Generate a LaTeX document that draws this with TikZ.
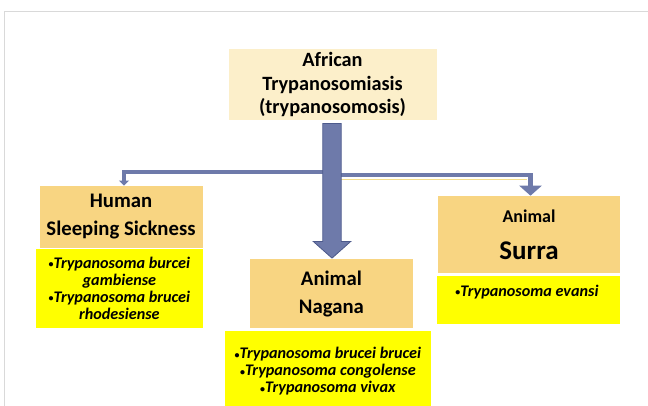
\documentclass[tikz,border=0pt]{standalone}
\usepackage{fontspec}
\setmainfont{Carlito}
\usetikzlibrary{arrows.meta,calc}
\definecolor{cream}{HTML}{FCEFCA}
\definecolor{gold}{HTML}{F8D582}
\definecolor{yel}{HTML}{FFFF00}
\definecolor{slate}{HTML}{6E7AAA}
\definecolor{slatedark}{HTML}{4D5A8C}
\definecolor{framegray}{HTML}{D9D9D9}
\definecolor{paleline}{HTML}{F2DC8C}
\newcommand\mybul{{\fontsize{10}{10}\selectfont\upshape\raisebox{0.8pt}{•}}}
\begin{document}
\begin{tikzpicture}[x=1pt,y=-1pt,
  box/.style={draw=none, inner sep=0pt, align=center, text=black},
  headbox/.style={box, fill=gold, font=\fontsize{20.7}{28}\selectfont\bfseries},
  listbox/.style={box, fill=yel, font=\fontsize{16.2}{17}\selectfont\bfseries\itshape},
  listtext/.style={box, font=\fontsize{16.2}{17}\selectfont\bfseries\itshape},
  link/.style={draw=slate, line width=4.5pt},
]
\useasboundingbox (0,0) rectangle (648,405);
\fill[white] (0,0) rectangle (648,405);
\draw[framegray, line width=1pt] (4.5,406) -- (4.5,11.7) -- (649,11.7);

% boxes
\node[box, fill=cream, minimum width=208pt, minimum height=71pt,
      font=\fontsize{20.3}{23.5}\selectfont\bfseries] (top) at (332.5,84.5)
      {African\\Trypanosomiasis\\(trypanosomosis)};

\node[headbox, minimum width=163pt, minimum height=62pt] (human) at (121,216.8)
      {Human\\Sleeping Sickness};
\node[listbox, minimum width=167pt, minimum height=79pt] (humanlist) at (119.4,288.4)
      {\mybul Trypanosoma burcei\\gambiense\\\mybul Trypanosoma brucei\\rhodesiense};

\node[headbox, minimum width=163pt, minimum height=69pt] (nagana) at (331.4,293.8)
      {Animal\\Nagana};
\node[listbox, minimum width=206pt, minimum height=81.4pt] (naganalist) at (327.9,371.4)
      {\mybul Trypanosoma brucei brucei\\\mybul Trypanosoma congolense\\\mybul Trypanosoma vivax};

\node[box, fill=gold, minimum width=182pt, minimum height=77pt,
      font=\fontsize{27}{37}\selectfont\bfseries] (surra) at (529,234.4)
      {{\fontsize{18}{22}\selectfont Animal}\\Surra};
\node[listbox, minimum width=183pt, minimum height=48pt] (surralist) at (528,300) {};
\node[listtext] (surratext) at (527,292) {\mybul Trypanosoma evansi};

% connectors
\coordinate (mtop) at ($(top.south)+(-0.5,3.3)$);
\coordinate (mtip) at ($(mtop |- nagana.north)+(0,-1)$);

\draw[paleline, line width=1pt] ($(mtop)+(9.2,56)$) -- ++(186,0);
\draw[link, -{Triangle[width=10pt,length=5pt]}]
      ($(mtop)+(0,48.7)$) -| ($(human.north)+(3,0)$);
\draw[link, -{Triangle[width=22pt,length=10pt]}]
      ($(mtop)+(0,51.7)$) -| ($(surra.north)+(1.5,0)$);

\fill[slate, draw=slatedark, line width=0.8pt]
      ($(mtop)+(-9.2,0)$) -- ($(mtop)+(9.2,0)$) -- ($(mtip)+(9.2,-16.6)$)
      -- ($(mtip)+(18.7,-16.6)$) -- (mtip) -- ($(mtip)+(-18.7,-16.6)$)
      -- ($(mtip)+(-9.2,-16.6)$) -- cycle;
\end{tikzpicture}
\end{document}
